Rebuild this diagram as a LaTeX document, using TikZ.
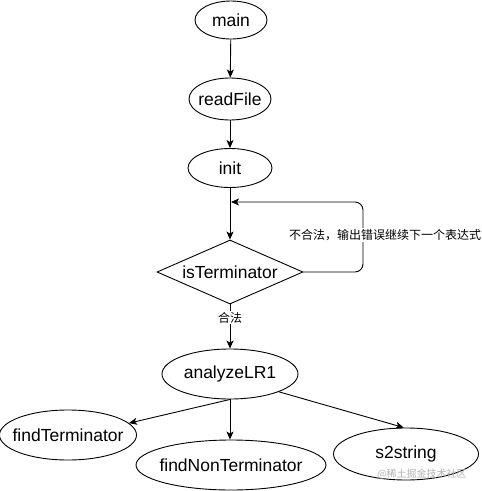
\documentclass[tikz,border=0pt]{standalone}
\usepackage{fontspec}
\setmainfont{Liberation Sans}
\newfontfamily\cjk{Noto Sans CJK SC}
\usetikzlibrary{shapes.geometric,arrows.meta}
\newcommand{\zw}[1]{\makebox[0pt]{#1}}
\begin{document}
\begin{tikzpicture}[x=1pt,y=-1pt,
  ell/.style={draw,ellipse,line width=0.9pt,inner sep=0pt,font=\fontsize{17.5}{20}\selectfont},
  dec/.style={draw,diamond,line width=0.9pt,inner sep=0pt,minimum width=146pt,minimum height=64pt,font=\fontsize{17.5}{20}\selectfont},
  arr/.style={line width=0.9pt,-{Stealth[length=8pt,width=7pt,inset=2pt]}},
  lbl/.style={fill=white,inner sep=1pt,font=\cjk\fontsize{12}{14}\selectfont}]
\useasboundingbox (0,0) rectangle (482,491);
\node[ell,minimum width=72pt,minimum height=38pt] (main) at (231,20) {\zw{main}};
\node[ell,minimum width=82pt,minimum height=42pt] (rf) at (230,99) {\zw{readFile}};
\node[ell,minimum width=84pt,minimum height=39pt] (init) at (230,168) {\zw{init}};
\node[dec] (isT) at (230,272) {\zw{isTerminator}};
\node[ell,minimum width=136pt,minimum height=50pt] (anz) at (230,374) {\zw{analyzeLR1}};
\node[ell,minimum width=137pt,minimum height=50pt] (fT) at (68,435) {\zw{findTerminator}};
\node[ell,minimum width=190pt,minimum height=50pt] (fNT) at (231,465) {\zw{findNonTerminator}};
\node[ell,minimum width=145pt,minimum height=52pt] (s2) at (406,454) {\zw{s2string}};
\draw[arr] (main) -- (rf);
\draw[arr] (rf) -- (init);
\draw[arr] (init) -- (isT);
\coordinate (c1) at (363,202);
\coordinate (ret) at (231,202);
\draw[arr,rounded corners=8pt] (isT.east) -| (c1) -- (ret);
\node[lbl] (bad) at (385,235) {不合法，输出错误继续下一个表达式};
\draw[arr] (isT) -- node[lbl,pos=0.3] (ok) {合法} (anz);
\draw[arr] (anz.south) -- (fT.11);
\draw[arr] (anz.south) -- (anz.south |- fNT.north);
\draw[arr] (anz.-20) -- (s2.95);
\node[text=black!30,font=\cjk\fontsize{10}{12}\selectfont] (wm) at (422,474) {@稀土掘金技术社区};
\end{tikzpicture}
\end{document}
